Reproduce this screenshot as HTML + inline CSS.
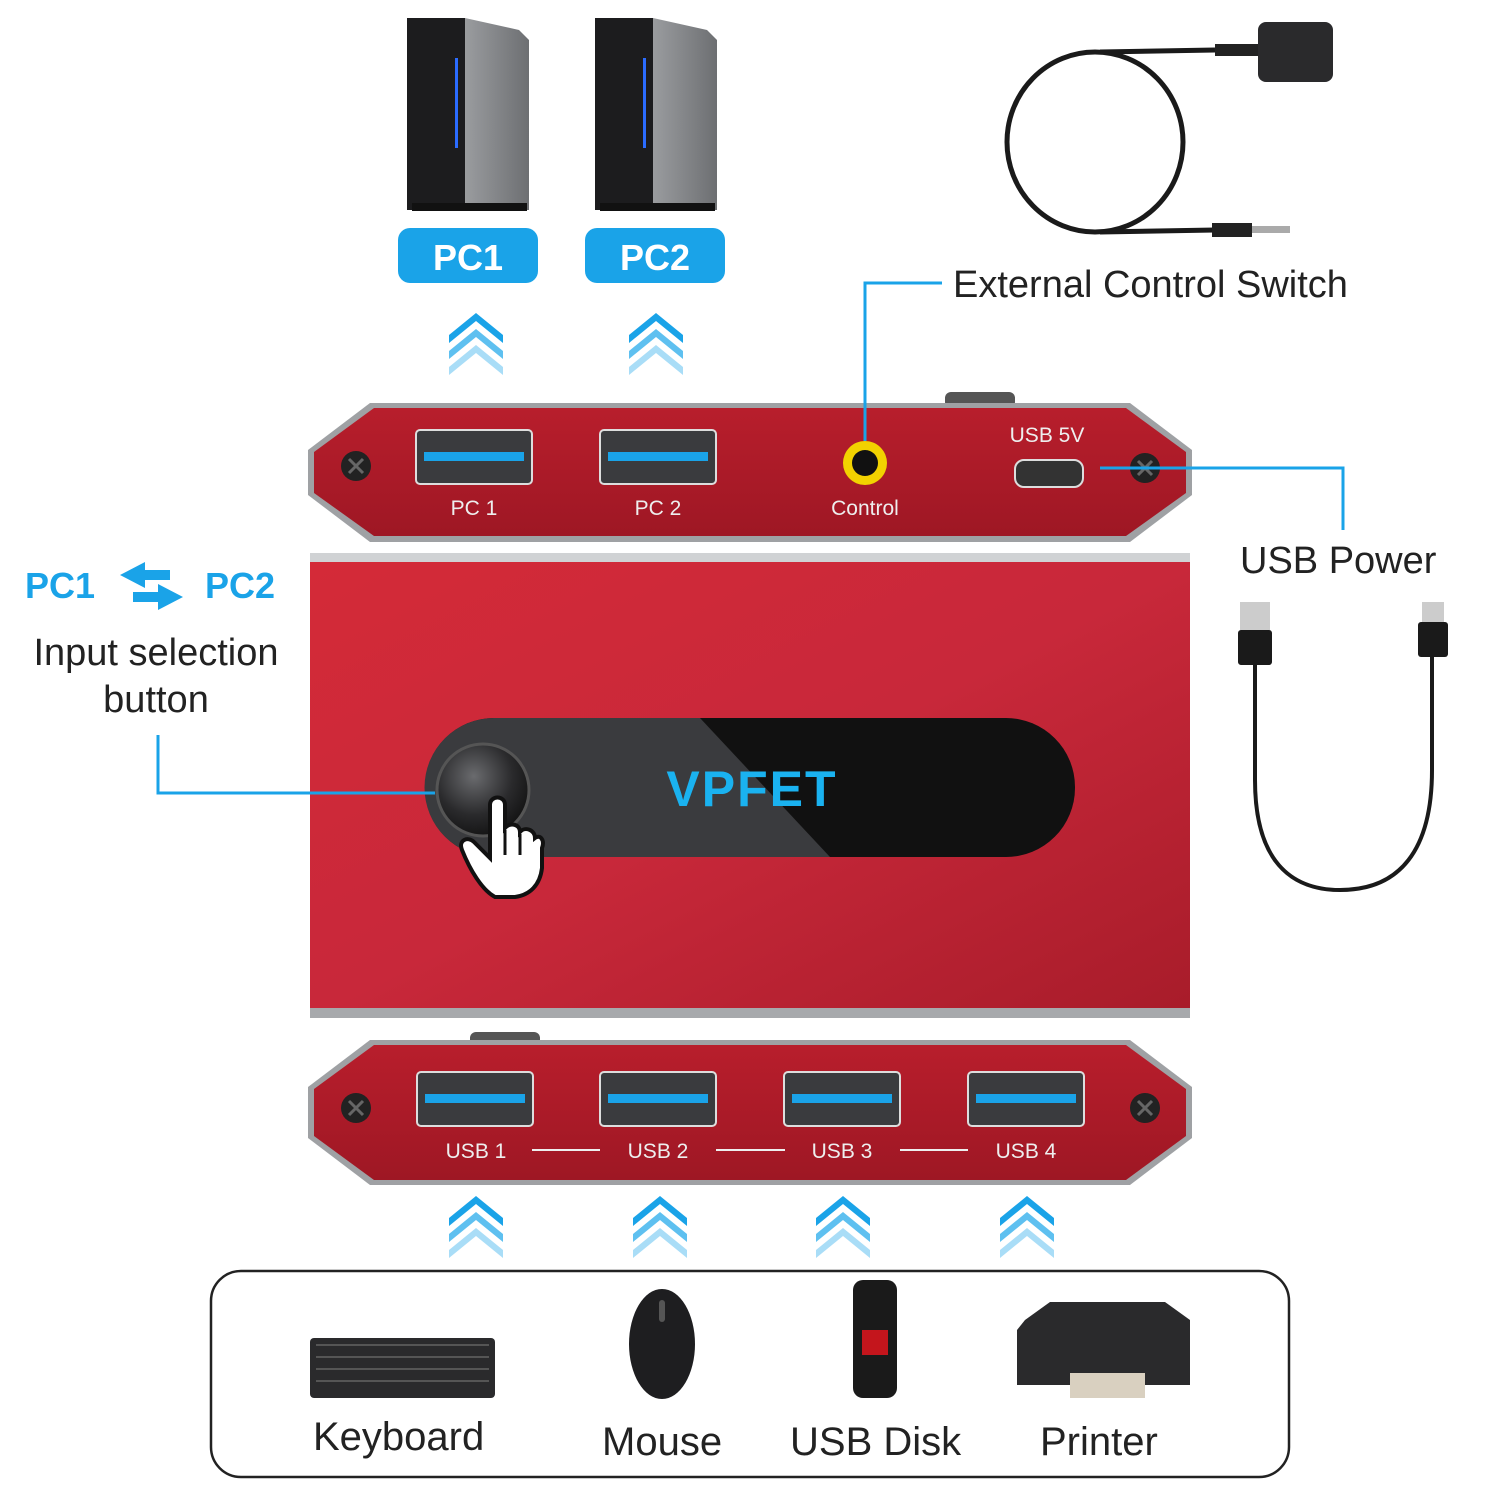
<!DOCTYPE html>
<html><head><meta charset="utf-8"><style>
html,body{margin:0;padding:0;background:#fff;width:1500px;height:1500px;overflow:hidden}
svg{display:block}
text{font-family:"Liberation Sans",sans-serif}
</style></head><body>
<svg width="1500" height="1500" viewBox="0 0 1500 1500" xmlns="http://www.w3.org/2000/svg">
<defs>
<linearGradient id="red" x1="0" y1="0" x2="1" y2="1"><stop offset="0" stop-color="#d42a38"/><stop offset="0.5" stop-color="#c8283a"/><stop offset="1" stop-color="#a81c2a"/></linearGradient>
<linearGradient id="panel" x1="0" y1="0" x2="0" y2="1"><stop offset="0" stop-color="#b81e2c"/><stop offset="1" stop-color="#9e1724"/></linearGradient>
<linearGradient id="tower" x1="0" y1="0" x2="1" y2="0"><stop offset="0" stop-color="#9a9c9f"/><stop offset="1" stop-color="#6d6f72"/></linearGradient>
<radialGradient id="btn" cx="0.4" cy="0.35" r="0.7"><stop offset="0" stop-color="#6a6b6e"/><stop offset="0.6" stop-color="#2a2a2c"/><stop offset="1" stop-color="#111"/></radialGradient>
<g id="chev"><path d="M-27 10 L0 -12 L27 10 L27 18 L0 -4 L-27 18Z" fill="#1aa3e8"/><path d="M-27 26 L0 4 L27 26 L27 34 L0 12 L-27 34Z" fill="#5ec0f0"/><path d="M-27 42 L0 20 L27 42 L27 50 L0 28 L-27 50Z" fill="#a9ddf7"/></g>
<g id="port"><rect x="0" y="0" width="116" height="54" rx="4" fill="#3a3b3e" stroke="#ddd" stroke-width="2"/><rect x="8" y="22" width="100" height="9" fill="#1aa3e8"/></g>
<g id="screw"><circle r="15" fill="#222"/><path d="M-7 -7L7 7M7 -7L-7 7" stroke="#666" stroke-width="3"/></g>
<g id="tw"><rect x="0" y="0" width="58" height="192" fill="#1c1c1e"/><path d="M58 0 L112 12 L122 22 L122 192 L58 192Z" fill="url(#tower)"/><rect x="48" y="40" width="3" height="90" fill="#2b6cff"/><rect x="5" y="185" width="115" height="8" fill="#111"/></g>
</defs>

<use href="#tw" x="407" y="18"/>
<use href="#tw" x="595" y="18"/>
<rect x="398" y="228" width="140" height="55" rx="12" fill="#1aa3e8"/>
<text x="468" y="270" font-size="36" font-weight="bold" fill="#fff" text-anchor="middle">PC1</text>
<rect x="585" y="228" width="140" height="55" rx="12" fill="#1aa3e8"/>
<text x="655" y="270" font-size="36" font-weight="bold" fill="#fff" text-anchor="middle">PC2</text>
<use href="#chev" x="476" y="325"/>
<use href="#chev" x="656" y="325"/>

<ellipse cx="1095" cy="142" rx="88" ry="90" fill="none" stroke="#1a1a1a" stroke-width="5"/>
<path d="M1100 52 L1215 50" stroke="#1a1a1a" stroke-width="5" fill="none"/>
<rect x="1215" y="44" width="45" height="12" fill="#222"/>
<rect x="1258" y="22" width="75" height="60" rx="8" fill="#2a2a2c"/>
<path d="M1100 232 L1215 230" stroke="#1a1a1a" stroke-width="5"/>
<rect x="1212" y="223" width="40" height="14" fill="#222"/><rect x="1252" y="226" width="38" height="7" fill="#aaa"/>
<text x="953" y="297" font-size="38" fill="#222">External Control Switch</text>

<rect x="945" y="392" width="70" height="16" rx="6" fill="#555"/>
<path d="M370 403 H1130 L1192 450 V495 L1130 542 H370 L308 495 V450Z" fill="#9fa1a4"/>
<path d="M374 408 H1126 L1186 452 V493 L1126 536 H374 L314 493 V452Z" fill="url(#panel)"/>
<use href="#screw" x="356" y="466"/><use href="#screw" x="1145" y="468"/>
<use href="#port" x="416" y="430"/><use href="#port" x="600" y="430"/>
<text x="474" y="515" font-size="21" fill="#eee" text-anchor="middle">PC 1</text>
<text x="658" y="515" font-size="21" fill="#eee" text-anchor="middle">PC 2</text>
<circle cx="865" cy="463" r="22" fill="#f2d200"/><circle cx="865" cy="463" r="13" fill="#111"/>
<path d="M865 441 V283 H942" stroke="#1aa3e8" stroke-width="3" fill="none"/>
<text x="865" y="515" font-size="21" fill="#eee" text-anchor="middle">Control</text>
<text x="1047" y="442" font-size="21" fill="#eee" text-anchor="middle">USB 5V</text>
<rect x="1015" y="460" width="68" height="27" rx="9" fill="#333" stroke="#ddd" stroke-width="2"/>
<path d="M1100 468 H1343 V530" stroke="#1aa3e8" stroke-width="3" fill="none"/>
<text x="1240" y="573" font-size="38" fill="#222">USB Power</text>

<rect x="1240" y="602" width="30" height="30" fill="#ccc"/><rect x="1238" y="630" width="34" height="35" rx="3" fill="#1a1a1a"/>
<rect x="1422" y="602" width="22" height="22" fill="#ccc"/><rect x="1418" y="622" width="30" height="35" rx="3" fill="#1a1a1a"/>
<path d="M1255 665 V780 C1255 860 1290 890 1340 890 C1400 890 1432 850 1432 770 V657" stroke="#1a1a1a" stroke-width="4" fill="none"/>

<rect x="310" y="553" width="880" height="12" fill="#d0d2d4"/>
<rect x="310" y="562" width="880" height="450" fill="url(#red)"/>
<rect x="310" y="1008" width="880" height="10" fill="#a7a9ac"/>
<rect x="425" y="718" width="650" height="139" rx="69" fill="#111"/>
<path d="M494 718 H700 L830 857 H494 A69 69 0 0 1 494 718Z" fill="#3a3b3e"/>
<text x="752" y="806" font-size="50" fill="#1ab2f0" text-anchor="middle" font-weight="bold" letter-spacing="2">VPFET</text>
<circle cx="483" cy="790" r="46" fill="url(#btn)" stroke="#555" stroke-width="3"/>
<path d="M490 805 C490 795 505 795 505 805 V828 C510 822 520 824 520 832 C525 826 535 830 535 838 C540 834 545 840 542 848 V868 C540 885 530 895 515 897 H495 C482 890 470 870 462 850 C458 840 468 836 474 842 L490 858 Z" fill="#fff" stroke="#111" stroke-width="4"/>
<path d="M505 830 V855 M520 834 V855" stroke="#111" stroke-width="3"/>

<text x="25" y="598" font-size="36" font-weight="bold" fill="#1aa3e8">PC1</text>
<path d="M120 575 L145 562 V570 H170 V580 H145 V588Z" fill="#1aa3e8"/>
<path d="M183 597 L158 610 V602 H133 V592 H158 V584Z" fill="#1aa3e8"/>
<text x="205" y="598" font-size="36" font-weight="bold" fill="#1aa3e8">PC2</text>
<text x="156" y="665" font-size="38" fill="#222" text-anchor="middle">Input selection</text>
<text x="156" y="712" font-size="38" fill="#222" text-anchor="middle">button</text>
<path d="M158 735 V793 H435" stroke="#1aa3e8" stroke-width="3" fill="none"/>

<rect x="470" y="1032" width="70" height="14" rx="6" fill="#555"/>
<path d="M370 1040 H1130 L1192 1087 V1138 L1130 1185 H370 L308 1138 V1087Z" fill="#9fa1a4"/>
<path d="M374 1045 H1126 L1186 1089 V1136 L1126 1180 H374 L314 1136 V1089Z" fill="url(#panel)"/>
<use href="#screw" x="356" y="1108"/><use href="#screw" x="1145" y="1108"/>
<use href="#port" x="417" y="1072"/><use href="#port" x="600" y="1072"/><use href="#port" x="784" y="1072"/><use href="#port" x="968" y="1072"/>
<g font-size="21" fill="#eee" text-anchor="middle">
<text x="476" y="1158">USB 1</text><text x="658" y="1158">USB 2</text><text x="842" y="1158">USB 3</text><text x="1026" y="1158">USB 4</text></g>
<g stroke="#eee" stroke-width="2"><path d="M532 1150H600M716 1150H785M900 1150H968"/></g>
<use href="#chev" x="476" y="1208"/><use href="#chev" x="660" y="1208"/><use href="#chev" x="843" y="1208"/><use href="#chev" x="1027" y="1208"/>

<rect x="211" y="1271" width="1078" height="206" rx="30" fill="#fff" stroke="#222" stroke-width="2.5"/>
<rect x="310" y="1338" width="185" height="60" rx="4" fill="#2a2a2c"/>
<g fill="#555"><rect x="316" y="1344" width="173" height="2"/><rect x="316" y="1356" width="173" height="2"/><rect x="316" y="1368" width="173" height="2"/><rect x="316" y="1380" width="173" height="2"/></g>
<ellipse cx="662" cy="1344" rx="33" ry="55" fill="#1e1e20"/><rect x="659" y="1300" width="6" height="22" rx="3" fill="#555"/>
<rect x="853" y="1280" width="44" height="118" rx="10" fill="#1a1a1a"/><rect x="862" y="1330" width="26" height="25" fill="#c4151c"/>
<path d="M1025 1320 L1050 1302 H1165 L1190 1320 V1385 H1017 V1330Z" fill="#2a2a2c"/>
<rect x="1070" y="1373" width="75" height="25" fill="#d9d0c0"/>
<g font-size="40" fill="#222"><text x="313" y="1450">Keyboard</text><text x="602" y="1455">Mouse</text><text x="790" y="1455">USB Disk</text><text x="1040" y="1455">Printer</text></g>
</svg>
</body></html>
